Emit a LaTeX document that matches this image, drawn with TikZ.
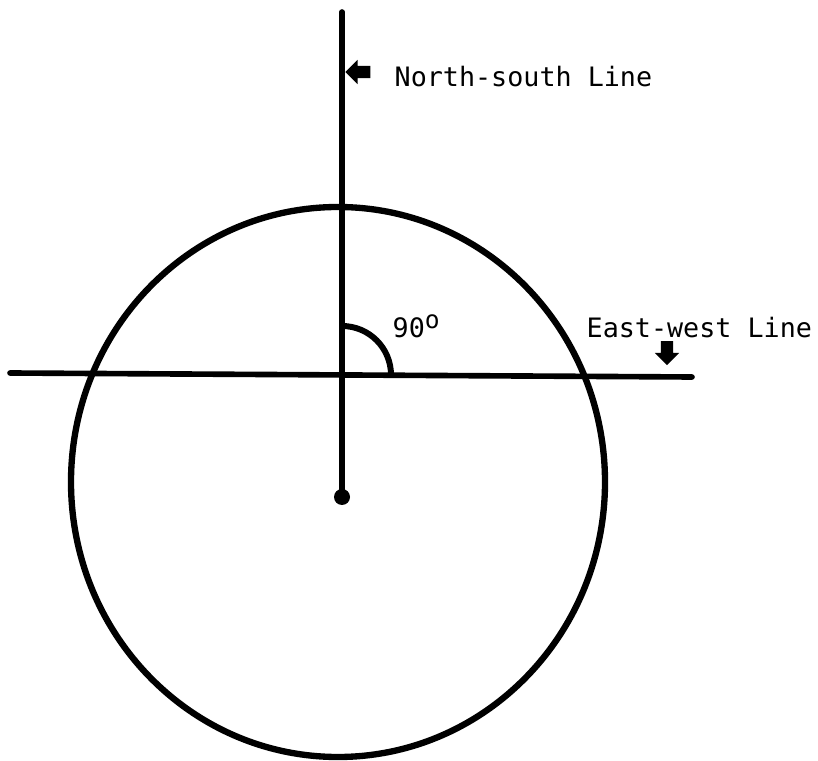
\documentclass[tikz,border=0pt]{standalone}
\usepackage{fontspec}
\setmonofont{DejaVu Sans Mono}
\usetikzlibrary{shapes, arrows, positioning, calc}

\tikzset{
  ruleline/.style={line width=1.6pt, line cap=round},
  lbl/.style={font=\fontsize{7.6}{9}\selectfont\ttfamily, inner sep=0pt},
  fatarrow/.style={single arrow, fill, draw=none, inner sep=0.055cm,
    single arrow head extend=0.06cm, minimum height=0.25cm}
}

\begin{document}
\begin{tikzpicture}[x=0.01cm, y=-0.01cm]
  \useasboundingbox (0,0) rectangle (818,761);

  % Points
  \coordinate (top) at (342,12);
  \coordinate (O) at (342,375);
  \coordinate (c) at (342,497);
  \coordinate (w) at (10,373);
  \coordinate (e) at (692,377);

  % Circle
  \draw[line width=1.8pt] (338,482) ellipse [x radius=267, y radius=275];

  % North-south and east-west lines
  \draw[ruleline] (top) -- (c);
  \draw[ruleline] (w) -- (e);
  \fill (c) circle (8);

  % Right angle
  \draw[line width=1.7pt] ($(O)+(49,0)$) arc [start angle=0, end angle=-90, radius=49];
  \node[lbl, anchor=base west] (ang) at (392,338) {90\textsuperscript{\fontsize{7}{8}\selectfont o}};

  % Labels
  \node[fatarrow, shape border rotate=180] (nsarrow) at (361,72) {};
  \node[lbl, anchor=base west] (ns) at (394,87) {North-south Line};
  \node[lbl, anchor=base west] (ew) at (586,338) {East-west Line};
  \node[fatarrow, shape border rotate=270, minimum height=0.24cm] (ewarrow) at (667,350) {};
\end{tikzpicture}
\end{document}
